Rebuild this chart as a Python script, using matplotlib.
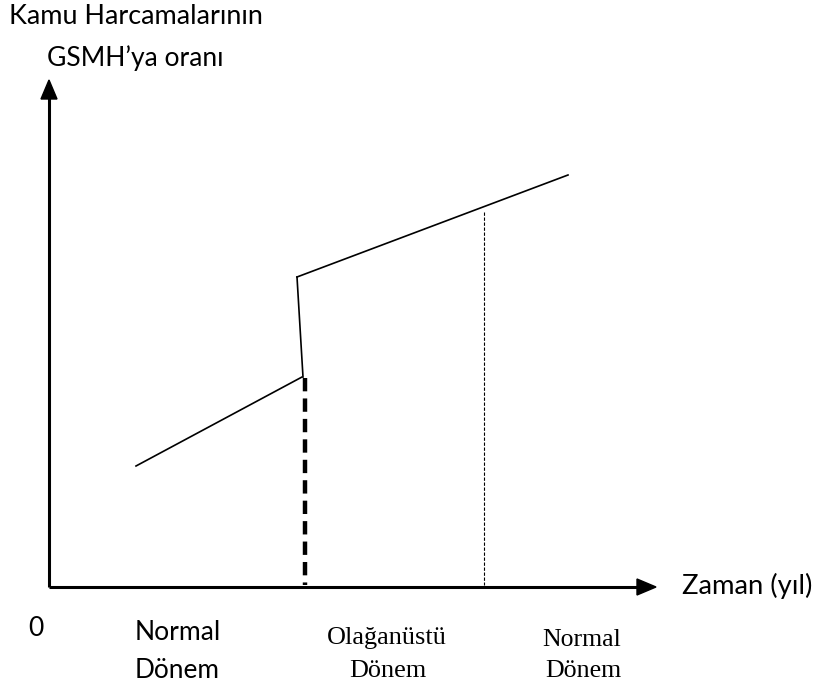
import matplotlib
matplotlib.use("Agg")
import matplotlib.pyplot as plt

# Schematic data (in pixel-like layout units, y grows downward)
normal_x = [136, 302]
normal_y = [466, 377]
jump_x = [303, 297]
jump_y = [377, 277]
extra_x = [297, 568]
extra_y = [277, 175]
war_end_x = 305
war_end_top = 378
return_x = 484
return_top = 212
origin = (49, 587)
x_axis_end = 656
y_axis_end = 80

fig = plt.figure(figsize=(8.15, 6.93), dpi=100)
ax = fig.add_axes([0, 0, 1, 1])
ax.set_xlim(0, 815)
ax.set_ylim(693, 0)
ax.axis("off")

# axes with arrows
ax.plot([origin[0], x_axis_end - 18], [origin[1], origin[1]], color="black", lw=2.2, solid_capstyle="butt")
ax.plot([origin[0], origin[0]], [origin[1], y_axis_end + 18], color="black", lw=2.2, solid_capstyle="butt")
ax.fill([x_axis_end - 19, x_axis_end, x_axis_end - 19], [origin[1] - 8, origin[1], origin[1] + 8], color="black")
ax.fill([origin[0] - 8, origin[0], origin[0] + 8], [y_axis_end + 19, y_axis_end, y_axis_end + 19], color="black")

# curves
ax.plot(normal_x, normal_y, color="black", lw=1.2)
ax.plot(jump_x, jump_y, color="black", lw=1.2)
ax.plot(extra_x, extra_y, color="black", lw=1.2)

# dashed verticals
ax.plot([war_end_x, war_end_x], [war_end_top, origin[1] - 2], color="black", lw=3.2, dashes=(3, 1.6))
ax.plot([return_x, return_x], [return_top, origin[1] - 2], color="black", lw=0.8, dashes=(3, 1.5))

sans = ["Lato", "DejaVu Sans"]
serif = ["Liberation Serif", "DejaVu Serif"]

fig.canvas.draw()
renderer = fig.canvas.get_renderer()


def fitted(s, left, right, yc, family):
    t = ax.text(left, yc, s, fontsize=10, family=family, ha="left", va="center")
    w = t.get_window_extent(renderer).width
    t.set_fontsize(10 * (right - left) / w)
    return t


labels = [
    ("Kamu Harcamalarının", 9, 263, 17, sans),
    ("GSMH\u2019ya oranı", 47, 224, 58, sans),
    ("Zaman (yıl)", 682, 812, 586, sans),
    ("Normal", 135, 221, 633, sans),
    ("Dönem", 135, 220, 671, sans),
    ("Olağanüstü", 327, 447, 638, serif),
    ("Dönem", 349, 426, 671, serif),
    ("Normal", 542, 621, 640, serif),
    ("Dönem", 545, 621, 671, serif),
]
sizes = []
for s, l, r, y, fam in labels:
    sizes.append(fitted(s, l, r, y, fam).get_fontsize())

ax.text(36, 628, "0", fontsize=sizes[3], family=sans, ha="center", va="center")

fig.savefig("out.png", dpi=100)
